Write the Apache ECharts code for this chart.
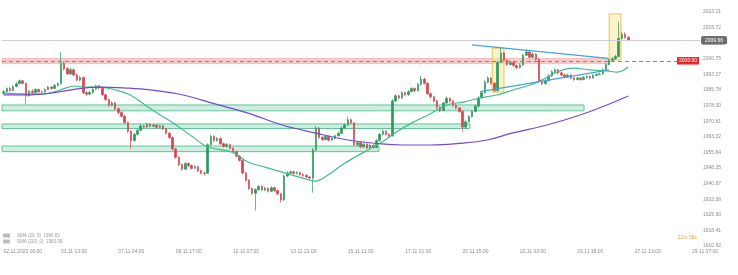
<!DOCTYPE html>
<html><head><meta charset="utf-8">
<script src="https://cdn.jsdelivr.net/npm/echarts@6/dist/echarts.min.js"></script>
<style>html,body{margin:0;padding:0;background:#fff}#c{width:738px;height:275px}</style>
</head><body><div id="c"></div>
<script>
// x tick labels (every 18th bar)
const tickLabels = ['02.11.2023 00:00','03.11 13:00','07.11 04:00','08.11 17:00','10.11 07:00','13.11 21:00','15.11 11:00','17.11 01:00','20.11 15:00','22.11 03:00','23.11 18:00','27.11 13:00','29.11 07:00'];
// y tick labels, bottom to top
const yTickLabels = ['1910.92','1918.41','1925.90','1933.38','1940.87','1948.35','1955.84','1963.32','1970.81','1978.30','1985.78','1993.27','2000.75','2008.24','2015.72','2023.21'];
const barCount = 219;
// candles: [open, close, low, high]
const candles = [
[1984.2,1985.0,1983.6,1985.6],[1985.0,1986.5,1984.6,1987.0],[1986.5,1985.5,1985.0,1987.2],[1985.5,1987.5,1985.2,1988.0],[1987.5,1988.8,1987.0,1989.6],
[1988.8,1990.2,1988.4,1990.8],[1990.2,1989.0,1988.5,1990.6],[1989.0,1983.0,1979.0,1989.4],[1983.0,1985.2,1982.6,1985.8],[1985.2,1984.6,1984.0,1986.0],
[1984.6,1986.0,1984.2,1986.6],[1986.0,1985.0,1984.5,1986.4],[1985.0,1984.8,1984.0,1985.6],[1984.8,1986.0,1984.4,1986.5],[1986.0,1987.2,1985.6,1987.8],
[1987.2,1986.5,1986.0,1987.6],[1986.5,1988.0,1986.2,1988.6],[1988.0,1988.8,1987.5,1989.5],[1988.8,1998.5,1988.4,2004.0],[1998.5,1996.0,1995.2,1999.5],
[1996.0,1993.5,1993.0,1996.8],[1993.5,1995.5,1993.0,1996.5],[1995.5,1993.0,1992.4,1996.0],[1993.0,1990.5,1990.0,1993.5],[1990.5,1991.8,1990.0,1992.6],
[1991.8,1984.5,1983.8,1992.2],[1984.5,1983.8,1983.0,1985.2],[1983.8,1984.6,1983.2,1985.4],[1984.6,1986.2,1984.0,1986.8],[1986.2,1987.8,1985.8,1988.4],
[1987.8,1986.8,1986.0,1988.2],[1986.8,1983.5,1983.0,1987.2],[1983.5,1981.2,1980.6,1984.0],[1981.2,1978.5,1977.8,1981.6],[1978.5,1979.6,1978.0,1980.4],
[1979.6,1976.8,1976.0,1980.0],[1976.8,1975.0,1974.2,1977.4],[1975.0,1973.2,1972.5,1975.6],[1973.2,1970.2,1969.5,1973.8],[1970.2,1966.0,1965.2,1970.6],
[1966.0,1961.5,1957.5,1966.5],[1961.5,1964.5,1961.0,1965.2],[1964.5,1966.5,1964.0,1967.2],[1966.5,1968.5,1966.0,1969.4],[1968.5,1968.0,1967.4,1969.2],
[1968.0,1969.2,1967.6,1970.0],[1969.2,1968.4,1967.8,1969.8],[1968.4,1968.9,1967.9,1969.6],[1968.9,1967.9,1967.2,1969.3],[1967.9,1968.6,1967.4,1969.2],
[1968.6,1967.2,1966.6,1969.0],[1967.2,1965.0,1964.4,1967.6],[1965.0,1963.0,1962.2,1965.6],[1963.0,1957.5,1956.8,1963.4],[1957.5,1953.5,1952.8,1958.0],
[1953.5,1950.0,1949.2,1954.0],[1950.0,1947.8,1947.0,1950.6],[1947.8,1950.5,1947.4,1951.2],[1950.5,1949.5,1948.8,1951.0],[1949.5,1948.2,1947.6,1950.0],
[1948.2,1949.0,1947.8,1949.8],[1949.0,1947.0,1946.4,1949.4],[1947.0,1946.0,1945.4,1947.6],[1946.0,1945.8,1944.8,1946.6],[1945.8,1959.5,1945.4,1960.2],
[1959.5,1963.5,1959.0,1964.4],[1963.5,1961.5,1960.8,1964.0],[1961.5,1962.5,1961.0,1963.2],[1962.5,1960.0,1959.4,1963.0],[1960.0,1958.8,1958.2,1960.6],
[1958.8,1959.6,1958.2,1960.4],[1959.6,1957.8,1957.2,1960.0],[1957.8,1956.2,1955.6,1958.2],[1956.2,1954.0,1953.4,1956.6],[1954.0,1952.0,1951.4,1954.6],
[1952.0,1946.0,1945.2,1952.4],[1946.0,1942.5,1941.8,1946.6],[1942.5,1938.5,1937.8,1943.0],[1938.5,1936.2,1935.4,1939.0],[1936.2,1938.0,1928.0,1938.6],
[1938.0,1939.5,1937.4,1940.2],[1939.5,1937.8,1937.2,1940.0],[1937.8,1938.6,1937.2,1939.4],[1938.6,1937.2,1936.6,1939.0],[1937.2,1938.9,1936.8,1939.6],
[1938.9,1937.5,1936.8,1939.4],[1937.5,1936.0,1935.4,1938.0],[1936.0,1933.0,1931.8,1936.4],[1933.0,1944.5,1932.6,1945.2],[1944.5,1946.0,1944.0,1946.8],
[1946.0,1946.5,1945.4,1947.2],[1946.5,1945.8,1945.2,1947.0],[1945.8,1946.2,1945.2,1946.8],[1946.2,1945.2,1944.6,1946.6],[1945.2,1944.8,1944.2,1945.8],
[1944.8,1944.0,1943.4,1945.4],[1944.0,1943.5,1942.8,1944.6],[1943.5,1957.0,1936.5,1958.0],[1957.0,1967.5,1956.5,1968.5],[1967.5,1963.0,1962.4,1968.0],
[1963.0,1962.0,1961.4,1963.6],[1962.0,1963.5,1961.6,1964.2],[1963.5,1961.8,1961.2,1964.0],[1961.8,1962.6,1961.2,1963.2],[1962.6,1963.8,1962.0,1964.4],
[1963.8,1965.0,1963.4,1965.8],[1965.0,1967.5,1964.6,1968.2],[1967.5,1969.0,1967.0,1969.8],[1969.0,1971.5,1968.6,1973.0],[1971.5,1970.0,1969.4,1972.0],
[1970.0,1959.5,1958.8,1970.4],[1959.5,1960.5,1958.8,1961.4],[1960.5,1958.5,1957.8,1961.0],[1958.5,1959.8,1958.0,1960.6],[1959.8,1958.0,1957.4,1960.2],
[1958.0,1959.2,1957.6,1960.0],[1959.2,1958.2,1957.6,1959.8],[1958.2,1961.5,1957.8,1962.2],[1961.5,1964.5,1961.0,1965.2],[1964.5,1966.0,1964.0,1966.8],
[1966.0,1964.5,1963.8,1966.4],[1964.5,1963.8,1963.0,1965.0],[1963.8,1980.5,1963.4,1981.4],[1980.5,1983.0,1980.0,1983.8],[1983.0,1982.0,1981.4,1983.6],
[1982.0,1984.5,1981.6,1985.2],[1984.5,1983.5,1982.8,1985.0],[1983.5,1985.0,1983.0,1985.8],[1985.0,1986.5,1984.6,1987.2],[1986.5,1985.5,1984.8,1987.0],
[1985.5,1988.5,1985.0,1989.2],[1988.5,1991.0,1988.0,1992.5],[1991.0,1989.0,1988.4,1991.6],[1989.0,1984.0,1983.4,1989.4],[1984.0,1982.5,1981.8,1984.6],
[1982.5,1980.5,1979.8,1983.0],[1980.5,1977.5,1976.8,1981.0],[1977.5,1976.0,1975.2,1978.0],[1976.0,1979.5,1975.6,1980.2],[1979.5,1981.8,1979.0,1982.6],
[1981.8,1980.5,1979.8,1982.2],[1980.5,1978.5,1977.8,1981.0],[1978.5,1977.2,1976.6,1979.0],[1977.2,1975.5,1974.8,1977.6],[1975.5,1968.0,1965.8,1976.0],
[1968.0,1970.5,1967.4,1971.2],[1970.5,1973.0,1970.0,1973.8],[1973.0,1975.5,1972.6,1976.2],[1975.5,1978.0,1975.0,1978.8],[1978.0,1982.0,1977.6,1982.8],
[1982.0,1984.5,1981.6,1985.4],[1984.5,1989.5,1984.0,1990.4],[1989.5,1991.5,1989.0,1992.4],[1991.5,1989.0,1988.4,1992.0],[1989.0,1985.5,1984.8,1989.6],
[1985.5,1999.0,1985.0,1999.8],[1999.0,2003.5,1998.6,2006.2],[2003.5,2000.0,1999.4,2004.0],[2000.0,1998.0,1997.4,2000.6],[1998.0,1999.0,1997.6,1999.8],
[1999.0,1997.5,1996.8,1999.4],[1997.5,1996.5,1995.8,1998.0],[1996.5,1997.8,1996.0,1998.6],[1997.8,2002.5,1997.4,2003.2],[2002.5,2004.0,2002.0,2005.5],
[2004.0,2001.5,2000.8,2004.4],[2001.5,2003.0,2001.0,2003.8],[2003.0,2000.5,1999.8,2003.4],[2000.5,1990.0,1989.4,2001.0],[1990.0,1988.8,1988.0,1990.6],
[1988.8,1990.2,1988.4,1991.0],[1990.2,1992.5,1989.8,1993.2],[1992.5,1994.5,1992.0,1995.2],[1994.5,1995.5,1994.0,1996.2],[1995.5,1994.0,1993.4,1996.0],
[1994.0,1993.0,1992.4,1994.6],[1993.0,1992.0,1991.4,1993.6],[1992.0,1993.0,1991.6,1993.6],[1993.0,1991.5,1991.0,1993.4],[1991.5,1990.8,1990.2,1992.0],
[1990.8,1991.5,1990.4,1992.2],[1991.5,1990.8,1990.2,1992.0],[1990.8,1991.8,1990.4,1992.4],[1991.8,1992.2,1991.2,1992.8],[1992.2,1991.6,1991.0,1992.6],
[1991.6,1992.8,1991.2,1993.4],[1992.8,1993.2,1992.4,1993.8],[1993.2,1993.5,1992.8,1994.2],[1993.5,1995.5,1993.2,1996.2],[1995.5,1998.0,1995.0,1998.8],
[1998.0,2000.0,1997.6,2000.8],[2000.0,2000.8,1999.4,2001.6],[2000.8,2001.8,2000.2,2002.6],[2001.8,2010.5,2001.4,2018.5],[2010.5,2012.5,2010.0,2013.8],
[2012.5,2011.0,2010.4,2013.4],[2011.0,2009.66,2009.2,2011.6]
];
// moving averages: [bar index, price]
const sma20 = [[0,1984.3],[8.3,1983.9],[13,1983.9],[17.7,1985.8],[22.4,1987.7],[25.5,1987.2],[30.3,1987.2],[35,1985.8],[39.7,1983.4],[44.4,1978.6],[49.1,1973.8],[53.2,1970.0],[59.4,1963.2],[64.1,1958.4],[71.7,1956.0],[76.7,1951.2],[82,1948.8],[87.4,1946.4],[93.6,1943.6],[97.7,1942.1],[101.8,1945.0],[106.2,1949.8],[110.3,1953.6],[114.3,1957.0],[118.7,1960.8],[122.8,1965.2],[128.1,1970.0],[133.2,1973.8],[139.1,1978.6],[144.2,1980.0],[149.5,1982.0],[154.8,1983.4],[159.8,1985.8],[165.2,1988.2],[168.9,1990.6],[173.7,1994.4],[178.7,1996.3],[184,1995.4],[189.3,1994.9],[192.5,1994.4],[196,1996.83]];
const sma200 = [[0,1983.4],[7.3,1983.4],[14.6,1984.3],[24.9,1986.7],[30.3,1987.2],[38.7,1986.7],[45.9,1985.8],[56.3,1983.4],[66.3,1979.1],[76.7,1974.7],[87.4,1969.0],[97.7,1965.2],[108.1,1961.8],[118.7,1959.9],[125,1959.4],[133.8,1959.4],[144.2,1960.3],[151.7,1961.8],[159.8,1965.2],[170.5,1969.0],[180.9,1973.8],[189.3,1978.6],[196,1982.9]];
const legendNames = ['SMA (20, 0)', 'SMA (200, 0)'];
const legendValues = ['1996.83', '1983.99'];
// zones: [top price, bottom price, last bar index]
const greenZones = [[1978.6,1975.8,182.1],[1969.5,1967.3,146.3],[1958.9,1956.2,117.8]];
const redZone = [2001.0,1998.4,190.3];
const resistanceLevel = 1999.8, resistanceLabel = '2000.00', resistanceEnd = 211.3;
const lastPrice = 2009.66;
// highlight boxes: [from bar, to bar, top price, bottom price]
const boxes = [[153.3,157.0,2005.9,1984.8],[190.0,193.7,2022.3,2000.2]];
const trendUpper = [[146.9,2007.4],[189.7,2001.0]];
const trendLower = [[149.5,1984.96],[190.0,1995.4]];
const timerText = '22m 58s';

const FONT = 'Liberation Sans';
const categories = Array.from({length: barCount}, (_, i) => 'b' + i);
const chart = echarts.init(document.getElementById('c'), null, {renderer: 'canvas'});
const grid = {left: 2, right: 38, top: 12, bottom: 29};
chart.setOption({
  animation: false,
  backgroundColor: '#ffffff',
  textStyle: {fontFamily: FONT},
  title: {text: timerText, right: 41, top: 235, padding: 0,
    textStyle: {fontSize: 5, color: '#f2a149', fontWeight: 'normal', fontFamily: FONT}},
  legend: {
    orient: 'vertical', left: 3, top: 233, padding: 0, itemGap: 1,
    itemWidth: 7, itemHeight: 4, selectedMode: false,
    data: legendNames.map(n => ({name: n, icon: 'rect', itemStyle: {color: '#bdbdbd'}})),
    formatter: n => n + '  ' + legendValues[legendNames.indexOf(n)],
    textStyle: {fontSize: 4.5, color: '#9a9a9a', padding: [0,0,0,2]}
  },
  grid: grid,
  xAxis: [
    {type: 'category', data: categories, boundaryGap: true,
      axisLine: {show: false}, axisTick: {show: false}, splitLine: {show: false},
      axisLabel: {interval: i => i % 18 === 0, align: 'left', margin: 3, fontSize: 5, color: '#8c8c8c',
        formatter: (v, i) => (i % 18 === 0 ? tickLabels[i / 18] : '')}},
    {type: 'value', min: -0.5, max: barCount - 0.5, show: false}
  ],
  yAxis: [
    {type: 'value', min: 1910.924, max: 2023.21, position: 'right', show: false, scale: true},
    {type: 'value', min: 0, max: 15, interval: 1, position: 'right',
      axisLine: {show: false}, axisTick: {show: false}, splitLine: {show: false},
      axisLabel: {margin: 3, fontSize: 5, color: '#8c8c8c', formatter: v => yTickLabels[v] || ''}}
  ],
  series: [
    {type: 'line', name: 'zones', xAxisIndex: 1, yAxisIndex: 0, data: [[0, 1990]], symbol: 'none',
      lineStyle: {opacity: 0}, silent: true, z: 1,
      markArea: {silent: true, data: [
        ...greenZones.map(z => [{coord: [-0.5, z[0]], itemStyle: {color: 'rgba(90,200,150,0.30)', borderColor: '#62c39c', borderWidth: 1}}, {coord: [z[2], z[1]]}]),
        [{coord: [-0.5, redZone[0]], itemStyle: {color: 'rgba(242,130,130,0.42)', borderColor: 'rgba(235,120,120,0.6)', borderWidth: 0.5}}, {coord: [redZone[2], redZone[1]]}],
        ...boxes.map(b => [{coord: [b[0], b[2]], itemStyle: {color: 'rgba(252,234,160,0.55)', borderColor: '#e7c65a', borderWidth: 1}}, {coord: [b[1], b[3]]}])
      ]},
      markLine: {silent: true, symbol: 'none', data: [
        [{coord: [-0.5, resistanceLevel]}, {coord: [resistanceEnd, resistanceLevel]}]
      ], lineStyle: {color: '#ef5a5a', type: [4, 3], width: 1},
        label: {position: 'end', distance: 0, formatter: resistanceLabel, fontSize: 5, color: '#fff',
          backgroundColor: '#e8272a', padding: [1.5, 2, 1, 2], fontFamily: FONT}}
    },
    {type: 'candlestick', name: 'price', xAxisIndex: 0, yAxisIndex: 0, data: candles, barWidth: 2, z: 3,
      itemStyle: {color: '#2e9a5a', color0: '#d8434d', borderColor: '#2e9a5a', borderColor0: '#d8434d', borderWidth: 0.7},
      markLine: {silent: true, symbol: 'none', data: [{yAxis: lastPrice}],
        lineStyle: {color: '#cfcfcf', type: 'solid', width: 1},
        label: {position: 'end', distance: 1, formatter: String(lastPrice), fontSize: 5, color: '#fff',
          backgroundColor: '#6e6e6e', padding: [2, 4, 1.5, 4], borderRadius: 2, fontFamily: FONT}}
    },
    {type: 'line', name: legendNames[0], xAxisIndex: 1, yAxisIndex: 0, data: sma20, smooth: 0.4, symbol: 'none', z: 4,
      lineStyle: {color: '#3fbc8c', width: 1.2}, itemStyle: {color: '#3fbc8c'}},
    {type: 'line', name: legendNames[1], xAxisIndex: 1, yAxisIndex: 0, data: sma200, smooth: 0.4, symbol: 'none', z: 4,
      lineStyle: {color: '#7448d2', width: 1.2}, itemStyle: {color: '#7448d2'}},
    {type: 'line', name: 'trendUpper', xAxisIndex: 1, yAxisIndex: 0, data: trendUpper, symbol: 'none', z: 5,
      lineStyle: {color: '#3ea7df', width: 1.2}},
    {type: 'line', name: 'trendLower', xAxisIndex: 1, yAxisIndex: 0, data: trendLower, symbol: 'none', z: 5,
      lineStyle: {color: '#3ea7df', width: 1.2}}
  ]
});
</script>
</body></html>
